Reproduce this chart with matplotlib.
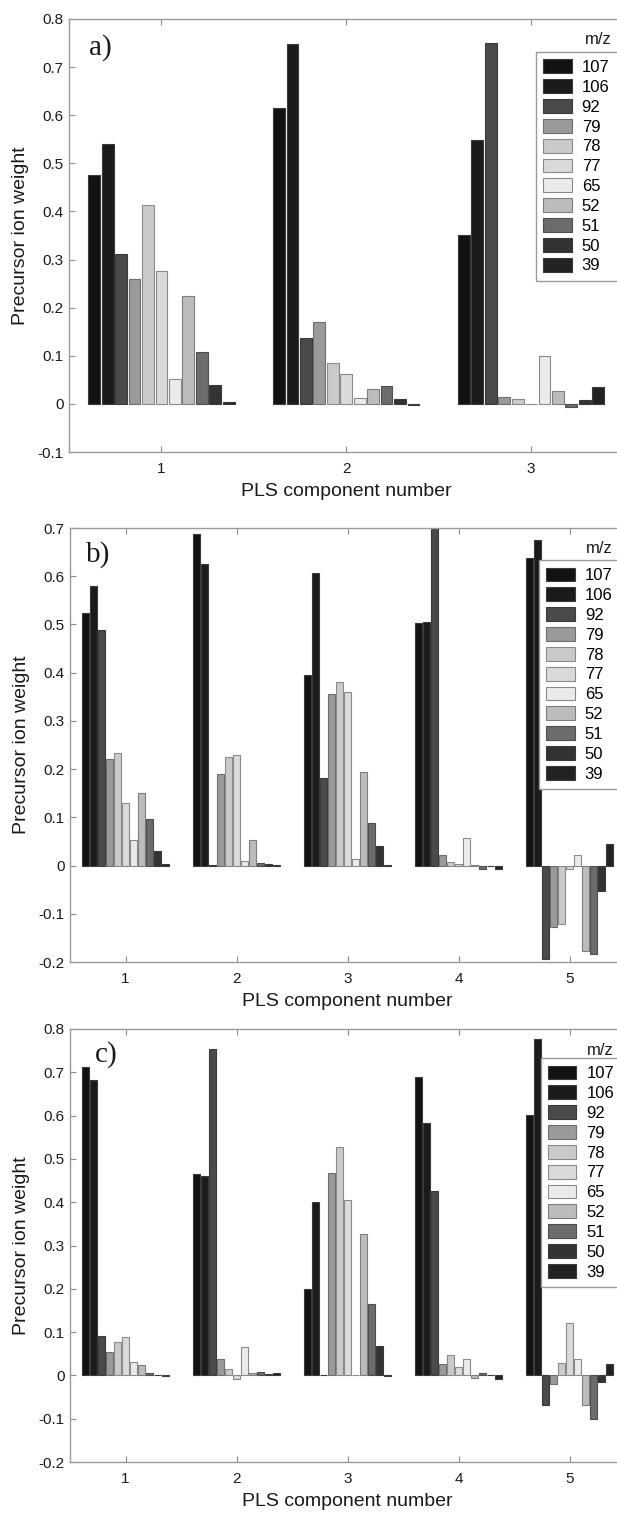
import numpy as np
import matplotlib.pyplot as plt

plt.rcParams['font.family'] = ['Liberation Sans', 'DejaVu Sans']

# ==========================[Data]=============================

ions = ['107', '106', '92', '79', '78', '77', '65', '52', '51', '50', '39']
fills = ['#121212', '#1b1b1b', '#4a4a4a', '#9a9a9a', '#cacaca', '#dadada',
         '#ebebeb', '#bcbcbc', '#6c6c6c', '#333333', '#222222']
edges = ['#3a3a3a', '#3a3a3a', '#3a3a3a', '#6e6e6e', '#8a8a8a', '#8a8a8a',
         '#8a8a8a', '#7e7e7e', '#4e4e4e', '#3a3a3a', '#3a3a3a']

# rows = PLS component, columns = ion (same order as ions)
weights_a = [
    [0.475, 0.541, 0.311, 0.259, 0.414, 0.277, 0.051, 0.224, 0.108, 0.039, 0.003],
    [0.615, 0.747, 0.137, 0.171, 0.085, 0.063, 0.013, 0.030, 0.037, 0.010, -0.003],
    [0.351, 0.548, 0.750, 0.015, 0.011, -0.001, 0.100, 0.026, -0.006, 0.008, 0.035],
]
weights_b = [
    [0.524, 0.580, 0.488, 0.221, 0.234, 0.129, 0.054, 0.150, 0.096, 0.031, 0.004],
    [0.688, 0.625, 0.001, 0.190, 0.226, 0.230, 0.010, 0.052, 0.005, 0.003, 0.001],
    [0.395, 0.607, 0.182, 0.356, 0.380, 0.360, 0.014, 0.194, 0.089, 0.041, 0.001],
    [0.503, 0.506, 0.760, 0.021, 0.008, 0.004, 0.057, 0.001, -0.008, -0.001, -0.008],
    [0.638, 0.675, -0.194, -0.127, -0.122, -0.007, 0.021, -0.178, -0.183, -0.053, 0.044],
]
weights_c = [
    [0.713, 0.683, 0.091, 0.055, 0.076, 0.088, 0.030, 0.023, 0.005, 0.002, -0.001],
    [0.466, 0.461, 0.753, 0.039, 0.015, -0.008, 0.066, 0.005, 0.008, 0.003, 0.005],
    [0.199, 0.401, 0.002, 0.467, 0.528, 0.404, 0.001, 0.327, 0.166, 0.069, -0.001],
    [0.689, 0.584, 0.427, 0.027, 0.047, 0.020, 0.038, -0.005, 0.005, 0.002, -0.008],
    [0.601, 0.777, -0.069, -0.020, 0.029, 0.120, 0.038, -0.069, -0.100, -0.016, 0.026],
]

panels = [
    ('a)', weights_a, (-0.1, 0.8)),
    ('b)', weights_b, (-0.2, 0.7)),
    ('c)', weights_c, (-0.2, 0.8)),
]

# axes boxes in pixels: left, right, top, bottom
boxes = [(69, 623.5, 19, 452), (70, 625, 528, 962), (70, 625, 1029, 1462)]
tag_pos = [(0.036, 0.935), (0.029, 0.938), (0.044, 0.94)]
# legend box: left, top, bottom (axes fraction)
leg_box = [(0.842, 0.924, 0.395), (0.845, 0.926, 0.401), (0.848, 0.933, 0.404)]
mz_pos = [(0.931, 0.952), (0.929, 0.952), (0.932, 0.951)]

W, H = 617, 1513
fig = plt.figure(figsize=(W / 100, H / 100), dpi=100)

n_ion = len(ions)
slot = 0.8 / n_ion

for k, (tag, data, ylim) in enumerate(panels):
    l, r, t, b = boxes[k]
    ax = fig.add_axes([l / W, 1 - b / H, (r - l) / W, (b - t) / H])
    data = np.array(data)
    ncomp = data.shape[0]
    comp = np.arange(1, ncomp + 1)

    handles = []
    for i in range(n_ion):
        xpos = comp - 0.4 + slot * (i + 0.5)
        bars = ax.bar(xpos, data[:, i], width=slot * 0.88, color=fills[i],
                      edgecolor=edges[i], linewidth=0.8, label=ions[i])
        handles.append(bars)

    ax.set_xlim(0.5, ncomp + 0.5)
    ax.set_ylim(*ylim)
    ax.set_xticks(comp)
    yt = np.round(np.arange(ylim[0], ylim[1] + 0.001, 0.1), 1)
    ax.set_yticks(yt)
    ax.set_yticklabels(['{:g}'.format(v) for v in yt])

    for s in ax.spines.values():
        s.set_color('#9a9a9a')
        s.set_linewidth(1.0)
    ax.tick_params(axis='both', direction='in', length=4, color='#8a8a8a',
                   labelsize=11, labelcolor='#1a1a1a', top=True, right=True)
    ax.tick_params(axis='x', pad=7)
    ax.tick_params(axis='y', pad=4)

    ax.set_xlabel('PLS component number', fontsize=14, color='#1a1a1a', labelpad=5)
    ax.set_ylabel('Precursor ion weight', fontsize=14, color='#1a1a1a', labelpad=6)

    ax.text(tag_pos[k][0], tag_pos[k][1], tag, transform=ax.transAxes,
            fontsize=21, family='Liberation Serif', va='center', ha='left',
            color='#1a1a1a')

    lx, ltop, lbot = leg_box[k]
    leg = ax.legend(handles=handles, loc='upper left',
                    bbox_to_anchor=(lx, lbot, 1.03 - lx, ltop - lbot),
                    mode='expand', fontsize=12, frameon=True, fancybox=False,
                    handlelength=1.7, handleheight=0.9, handletextpad=0.6,
                    labelspacing=0.25, borderpad=0.45, borderaxespad=0.0)
    leg.get_frame().set_edgecolor('#9a9a9a')
    leg.get_frame().set_linewidth(1.0)
    leg.get_frame().set_alpha(1.0)

    ax.text(mz_pos[k][0], mz_pos[k][1], 'm/z', transform=ax.transAxes,
            fontsize=12, va='center', ha='left', color='#1a1a1a')

plt.savefig('out.png', dpi=100)
